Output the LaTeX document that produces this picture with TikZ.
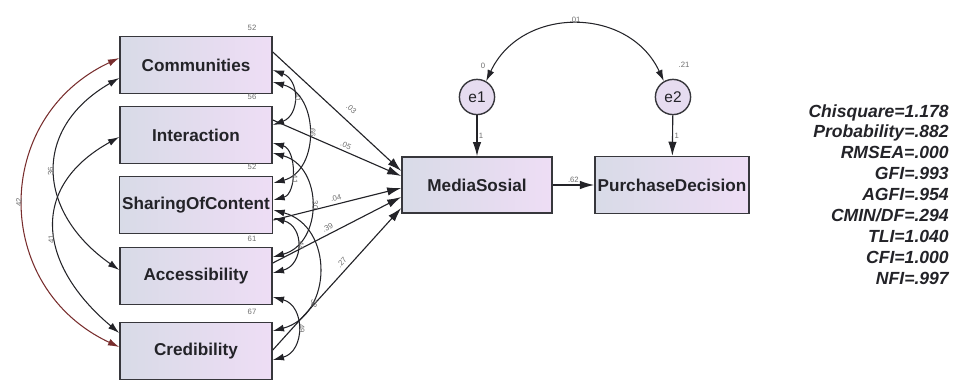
\documentclass[tikz,border=0pt]{standalone}
\usepackage{fontspec}
\setmainfont{Liberation Sans}
\usetikzlibrary{arrows.meta,calc}
\definecolor{boxleft}{RGB}{216,219,231}
\definecolor{boxright}{RGB}{238,221,245}
\definecolor{errfill}{RGB}{230,220,240}
\definecolor{covred}{RGB}{120,45,45}
\definecolor{labelgray}{RGB}{110,110,110}
\definecolor{edgegray}{RGB}{55,55,60}
\definecolor{textdark}{RGB}{35,35,40}

\begin{document}
\begin{tikzpicture}[x=0.025cm, y=-0.025cm,
    var/.style={draw=edgegray, line width=1.1pt, left color=boxleft, right color=boxright, minimum width=3.8cm, minimum height=1.42cm, inner xsep=2pt, text=textdark, font=\fontsize{12.2}{14}\selectfont\bfseries},
    err/.style={draw=edgegray, line width=1pt, circle, fill=errfill, minimum size=0.88cm, inner sep=0pt, text=textdark, font=\fontsize{11}{13}\selectfont},
    regpath/.style={line width=0.8pt, draw=textdark, -{Latex[length=10pt,width=6pt]}},
    cov/.style={line width=0.75pt, draw=textdark, {Latex[length=8pt,width=5pt]}-{Latex[length=8pt,width=5pt]}},
    est/.style={font=\fontsize{5.5}{6}\selectfont, text=labelgray, inner sep=1pt}]
    \useasboundingbox (0,0) rectangle (954,381);

    \node[var] (comm) at (196,65) {Communities};
    \node[var] (inter) at (196,135) {Interaction};
    \node[var] (share) at (196,205) {SharingOfContent};
    \node[var] (access) at (196,276) {Accessibility};
    \node[var] (cred) at (196,351) {Credibility};
    \node[var, minimum width=3.75cm, minimum height=1.4cm] (media) at (477,185) {MediaSosial};
    \node[var] (purchase) at (672,185) {PurchaseDecision};
    \node[err] (e1) at (477,97) {e1};
    \node[err] (e2) at (673,97) {e2};

    \node[est] (vcomm) at (252,28) {52};
    \node[est] (vinter) at (252,97) {56};
    \node[est] (vshare) at (252,167) {52};
    \node[est] (vaccess) at (252,239) {61};
    \node[est] (vcred) at (252,312) {67};
    \node[est] (ve1) at (483,66) {0};
    \node[est] (ve2) at (684,65) {.21};

    \draw[regpath] ($(comm.east)+(0,-13)$) -- ($(media.west)+(0,-14)$) node[est, sloped, above=5pt, pos=0.55] {.03};
    \draw[regpath] ($(inter.east)+(0,-15)$) -- ($(media.west)+(0,-9)$) node[est, sloped, above=1pt, pos=0.55] {.05};
    \draw[regpath] ($(share.east)+(0,15)$) -- ($(media.west)+(0,3)$) node[est, sloped, above=1pt, pos=0.5] {.04};
    \draw[regpath] ($(access.east)+(0,-13)$) -- ($(media.west)+(0,12)$) node[est, sloped, above=1pt, pos=0.45] {.39};
    \draw[regpath] ($(cred.east)+(0,-1)$) -- ($(media.west)+(0,23)$) node[est, sloped, above=2pt, pos=0.58] {.27};
    \draw[regpath] (media) -- (purchase) node[est, above, pos=0.5] {.62};
    \draw[regpath] (e1) -- (media) node[est, right, pos=0.5] {1};
    \draw[regpath] (e2) -- (purchase) node[est, right, pos=0.5] {1};
    \draw[cov] (e1.60) to[out=65,in=115,looseness=1.2] node[est, above, pos=0.5] {.01} (e2.120);

    \draw[cov, draw=covred] ($(comm.west)+(0,-7)$) to[out=205,in=155,looseness=1.25] node[est, pos=0.5, rotate=90, anchor=south] {42} ($(cred.west)+(0,-4)$);
    \draw[cov] ($(comm.west)+(0,13)$) to[out=210,in=145,looseness=1.35] node[est, pos=0.5, rotate=90, anchor=south] {36} ($(access.west)+(0,-6)$);
    \draw[cov] ($(inter.west)+(0,2)$) to[out=209,in=140,looseness=1.37] node[est, pos=0.55, rotate=90, anchor=south] {41} ($(cred.west)+(0,-18)$);

    \draw[cov] ($(comm.east)+(0,5)$) to[out=-20,in=20,looseness=1.35] node[est, pos=0.5, rotate=-90, anchor=south] {41} ($(inter.east)+(0,-10)$);
    \draw[cov] ($(comm.east)+(0,17)$) to[out=-15,in=15,looseness=1.22] node[est, pos=0.5, rotate=-90, anchor=south] {66} ($(share.east)+(0,-22)$);
    \draw[cov] ($(inter.east)+(0,8)$) to[out=-15,in=15,looseness=1.1] node[est, pos=0.6, rotate=-90, anchor=south] {41} ($(share.east)+(0,-5)$);
    \draw[cov] ($(inter.east)+(0,18)$) to[out=-15,in=15,looseness=1.29] node[est, pos=0.5, rotate=-90, anchor=south] {30} ($(access.east)+(0,-19)$);
    \draw[cov] ($(share.east)+(0,13)$) to[out=-15,in=15,looseness=1.5] node[est, pos=0.5, rotate=-90, anchor=south] {44} ($(access.east)+(0,-3)$);
    \draw[cov] ($(share.east)+(0,5)$) to[out=-15,in=15,looseness=1.32] node[est, pos=0.72, rotate=-90, anchor=south] {32} ($(cred.east)+(0,-20)$);
    \draw[cov] ($(access.east)+(0,21)$) to[out=-15,in=15,looseness=1.37] node[est, pos=0.5, rotate=-90, anchor=south] {49} ($(cred.east)+(0,9)$);

    \node[anchor=north east, align=right, inner sep=0pt, text=textdark, font=\fontsize{12.5}{14.9}\selectfont\bfseries\itshape] (fit) at (949,104) {Chisquare=1.178\\Probability=.882\\RMSEA=.000\\GFI=.993\\AGFI=.954\\CMIN/DF=.294\\TLI=1.040\\CFI=1.000\\NFI=.997};
\end{tikzpicture}
\end{document}
